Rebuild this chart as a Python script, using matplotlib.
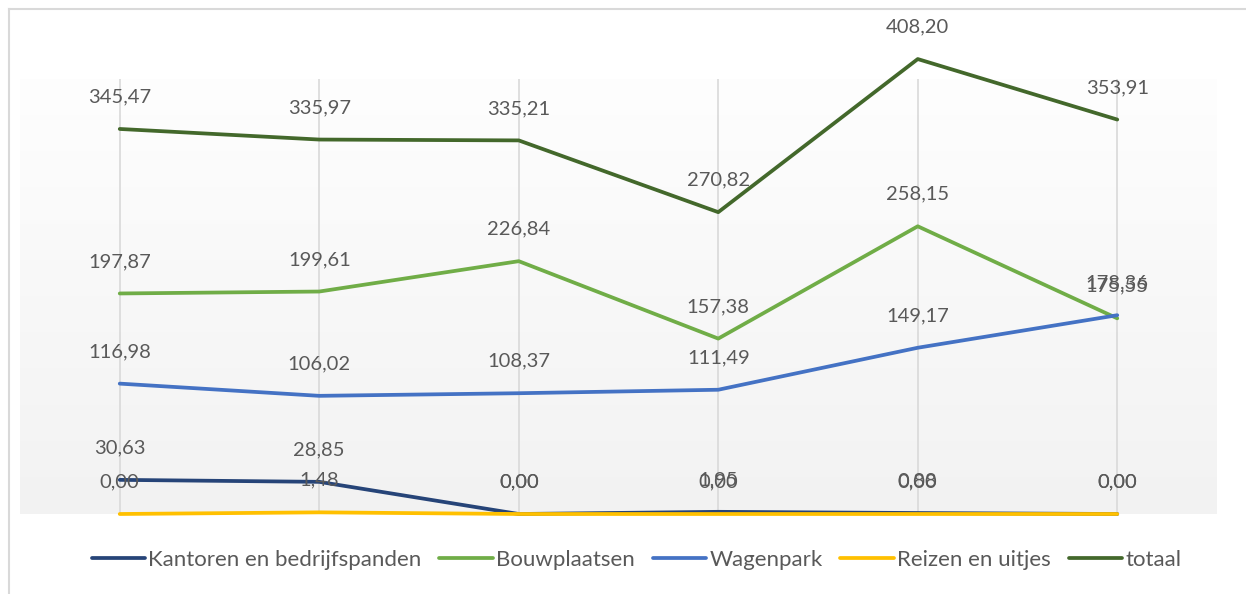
import matplotlib.pyplot as plt
import numpy as np
from matplotlib.colors import LinearSegmentedColormap
from matplotlib.lines import Line2D

plt.rcParams['font.family'] = ['Lato', 'DejaVu Sans']

# data (no category labels shown in the original)
punten = [0, 1, 2, 3, 4, 5]
kantoren = [30.63, 28.85, 0.00, 1.95, 0.88, 0.00]
bouwplaatsen = [197.87, 199.61, 226.84, 157.38, 258.15, 175.55]
wagenpark = [116.98, 106.02, 108.37, 111.49, 149.17, 178.36]
reizen = [0.00, 1.48, 0.00, 0.00, 0.00, 0.00]
totaal = [345.47, 335.97, 335.21, 270.82, 408.20, 353.91]

series = [
    ("Kantoren en bedrijfspanden", kantoren, '#264478'),
    ("Bouwplaatsen", bouwplaatsen, '#70AD47'),
    ("Wagenpark", wagenpark, '#4472C4'),
    ("Reizen en uitjes", reizen, '#FFC000'),
    ("totaal", totaal, '#43682B'),
]

W, H = 1246, 594
fig = plt.figure(figsize=(W / 100, H / 100), dpi=100)
ax = fig.add_axes([20 / W, 1 - 514 / H, 1197 / W, 435 / H])

ymax = 390.3

# achtergrond met verloop (boven wit, onder grijs)
cmap = LinearSegmentedColormap.from_list('bg', ['#FEFEFE', '#F2F2F2'])
grad = np.linspace(1, 0, 256).reshape(-1, 1)
ax.imshow(grad, extent=(-0.5, 5.5, 0, ymax), origin='lower', cmap=cmap,
          aspect='auto', zorder=0)
ax.set_xlim(-0.5, 5.5)
ax.set_ylim(0, ymax)

for x in punten:
    ax.axvline(x, color='#D9D9D9', lw=1.2, zorder=1)

for naam, vals, kleur in series:
    ax.plot(punten, vals, color=kleur, lw=2.7, solid_capstyle='round',
            label=naam, clip_on=False, zorder=3)

for naam, vals, kleur in series:
    for x, v in zip(punten, vals):
        ax.annotate(f"{v:.2f}".replace('.', ','), xy=(x, v), xytext=(0, 32),
                    textcoords='offset pixels', ha='center', va='center',
                    fontsize=14.5, color='#595959', zorder=4,
                    annotation_clip=False)

ax.set_xticks([])
ax.set_yticks([])
for s in ax.spines.values():
    s.set_visible(False)

fig.legend(loc='center', bbox_to_anchor=(636.5 / W, 1 - 560 / H), ncol=5,
           frameon=False, fontsize=16, handlelength=2.4, handletextpad=0.15,
           columnspacing=0.8, labelcolor='#595959')

# rand van de grafiek
fig.add_artist(Line2D([8.5 / W, 8.5 / W], [0, 1 - 8.5 / H], color='#D9D9D9', lw=1.5))
fig.add_artist(Line2D([8.5 / W, 1], [1 - 8.5 / H, 1 - 8.5 / H], color='#D9D9D9', lw=1.5))

fig.savefig('out.png', dpi=100)
